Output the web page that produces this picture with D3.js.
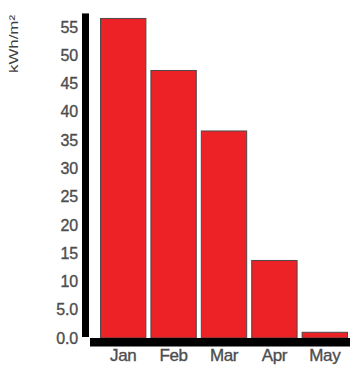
<!DOCTYPE html>
<html><head><meta charset="utf-8">
<script src="https://cdn.jsdelivr.net/npm/d3@7"></script>
<style>body{margin:0;background:#fff}svg{display:block}</style>
</head><body>
<svg id="c" width="350" height="367"></svg>
<script>
const months = ["Jan","Feb","Mar","Apr","May"];
const values = [56.6, 47.4, 36.7, 13.8, 1.1];
const yTicks = [0,5,10,15,20,25,30,35,40,45,50,55];
const yTickLabels = ["0.0","5.0","10","15","20","25","30","35","40","45","50","55"];
const yTitle = "kWh/m²";

const svg = d3.select("#c");
const y = d3.scaleLinear().domain([0,55]).range([338,27]);
const x = d3.scaleBand().domain(months).range([98,350]).paddingInner(0.08).paddingOuter(0.04);
const FONT = "Liberation Sans, Arial, sans-serif";

// bars
svg.append("g").selectAll("rect").data(values).join("rect")
  .attr("x",(d,i)=>x(months[i])+0.5)
  .attr("y",d=>y(d)+0.5)
  .attr("width",x.bandwidth()-1)
  .attr("height",d=>y(0)-y(d)-0.5)
  .attr("fill","#ec2227")
  .attr("stroke","#4a4a4a")
  .attr("stroke-width",1);

// left axis
const ya = svg.append("g").attr("transform","translate(79,0)")
  .call(d3.axisLeft(y).tickValues(yTicks).tickSize(0).tickPadding(1).tickFormat((d,i)=>yTickLabels[i]));
ya.select(".domain").remove();
ya.selectAll("text").attr("font-family",FONT).attr("font-size",16)
  .attr("fill","#4d4d4d").attr("stroke","#4d4d4d").attr("stroke-width",0.35).attr("letter-spacing","-0.2");
svg.append("rect").attr("x",82).attr("y",y(57.4)).attr("width",7).attr("height",y(0)-y(57.4)-1).attr("fill","#000");

// bottom axis
const xa = svg.append("g").attr("transform","translate(0,348)")
  .call(d3.axisBottom(x).tickSize(0).tickPadding(1));
xa.select(".domain").remove();
xa.selectAll("text").attr("font-family",FONT).attr("font-size",17)
  .attr("fill","#4d4d4d").attr("stroke","#4d4d4d").attr("stroke-width",0.35).attr("letter-spacing","-0.4");
svg.append("rect").attr("x",90).attr("y",338).attr("width",260).attr("height",8.5).attr("fill","#000");

// y title
svg.append("text").attr("transform","translate(17.5,44) rotate(-90)")
  .attr("text-anchor","middle").attr("font-family",FONT)
  .attr("font-size",13).attr("textLength",58).attr("lengthAdjust","spacingAndGlyphs")
  .attr("fill","#404040").text(yTitle);
</script>
</body></html>
